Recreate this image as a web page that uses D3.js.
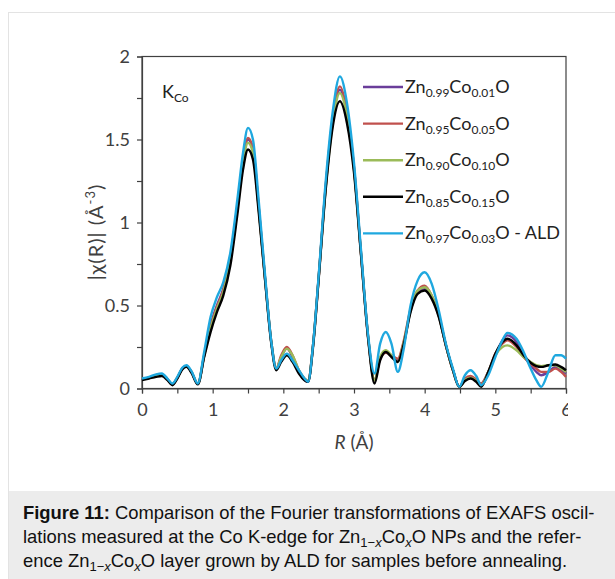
<!DOCTYPE html>
<html>
<head>
<meta charset="utf-8">
<script src="https://cdn.jsdelivr.net/npm/d3@7"></script>
<style>
  html, body { margin: 0; padding: 0; background: #ffffff; }
  svg { display: block; }
</style>
</head>
<body>
<svg id="fig" width="615" height="579"></svg>
<script>
// Radial distance grid (Å), shared by every sample
const rValues = [0, 0.1, 0.2, 0.28, 0.36, 0.43, 0.5, 0.57, 0.63, 0.7, 0.79, 0.88, 0.97, 1.06, 1.15, 1.25, 1.35, 1.43, 1.5, 1.57, 1.65, 1.74, 1.83, 1.9, 1.97, 2.05, 2.13, 2.22, 2.3, 2.35, 2.42, 2.5, 2.6, 2.7, 2.8, 2.9, 3.0, 3.1, 3.2, 3.29, 3.37, 3.45, 3.53, 3.62, 3.7, 3.8, 3.9, 4.0, 4.1, 4.2, 4.3, 4.4, 4.49, 4.57, 4.65, 4.73, 4.8, 4.9, 5.0, 5.1, 5.17, 5.3, 5.4, 5.5, 5.58, 5.65, 5.75, 5.85, 5.93, 6.0];

// |χ(R)| magnitudes (Å^-3) for each sample
const zn099 = [0.055, 0.065, 0.08, 0.085, 0.055, 0.025, 0.065, 0.12, 0.135, 0.1, 0.028, 0.2, 0.38, 0.50, 0.60, 0.79, 1.10, 1.37, 1.50, 1.44, 1.10, 0.67, 0.28, 0.12, 0.19, 0.24, 0.19, 0.10, 0.05, 0.04, 0.26, 0.67, 1.22, 1.62, 1.80, 1.66, 1.33, 0.81, 0.31, 0.05, 0.18, 0.22, 0.20, 0.17, 0.27, 0.47, 0.58, 0.60, 0.55, 0.44, 0.26, 0.11, 0.01, 0.055, 0.07, 0.05, 0.03, 0.10, 0.20, 0.29, 0.32, 0.28, 0.20, 0.14, 0.10, 0.08, 0.10, 0.13, 0.11, 0.09];
const zn095 = [0.055, 0.065, 0.08, 0.085, 0.055, 0.025, 0.065, 0.12, 0.135, 0.1, 0.028, 0.2, 0.37, 0.49, 0.59, 0.78, 1.10, 1.38, 1.51, 1.45, 1.10, 0.67, 0.28, 0.12, 0.20, 0.25, 0.20, 0.11, 0.06, 0.045, 0.26, 0.67, 1.22, 1.63, 1.82, 1.67, 1.33, 0.81, 0.31, 0.05, 0.18, 0.215, 0.20, 0.18, 0.28, 0.48, 0.59, 0.62, 0.56, 0.44, 0.26, 0.11, 0.01, 0.06, 0.075, 0.055, 0.03, 0.10, 0.21, 0.27, 0.29, 0.25, 0.19, 0.15, 0.12, 0.10, 0.10, 0.12, 0.10, 0.07];
const zn090 = [0.055, 0.065, 0.08, 0.085, 0.055, 0.025, 0.065, 0.12, 0.135, 0.1, 0.028, 0.2, 0.36, 0.48, 0.58, 0.77, 1.08, 1.36, 1.48, 1.42, 1.09, 0.67, 0.28, 0.12, 0.19, 0.24, 0.20, 0.11, 0.06, 0.045, 0.26, 0.67, 1.21, 1.60, 1.78, 1.64, 1.32, 0.81, 0.31, 0.05, 0.19, 0.23, 0.20, 0.16, 0.27, 0.47, 0.59, 0.61, 0.56, 0.44, 0.26, 0.11, 0.01, 0.05, 0.065, 0.045, 0.02, 0.10, 0.20, 0.25, 0.26, 0.23, 0.19, 0.16, 0.14, 0.135, 0.14, 0.14, 0.12, 0.10];
const zn085 = [0.05, 0.06, 0.07, 0.075, 0.05, 0.02, 0.06, 0.115, 0.13, 0.095, 0.025, 0.19, 0.34, 0.46, 0.56, 0.74, 1.05, 1.32, 1.44, 1.38, 1.07, 0.66, 0.27, 0.11, 0.16, 0.20, 0.16, 0.09, 0.05, 0.04, 0.25, 0.66, 1.20, 1.58, 1.73, 1.60, 1.30, 0.80, 0.30, 0.03, 0.17, 0.22, 0.19, 0.16, 0.26, 0.46, 0.57, 0.59, 0.54, 0.43, 0.26, 0.11, 0.01, 0.045, 0.06, 0.04, 0.01, 0.10, 0.21, 0.28, 0.30, 0.26, 0.20, 0.155, 0.135, 0.13, 0.14, 0.145, 0.13, 0.11];
const zn097ald = [0.06, 0.07, 0.085, 0.09, 0.06, 0.03, 0.07, 0.125, 0.14, 0.105, 0.03, 0.22, 0.43, 0.55, 0.64, 0.82, 1.14, 1.42, 1.57, 1.50, 1.14, 0.69, 0.28, 0.12, 0.17, 0.21, 0.17, 0.11, 0.06, 0.04, 0.26, 0.68, 1.25, 1.67, 1.88, 1.72, 1.36, 0.83, 0.32, 0.09, 0.27, 0.34, 0.27, 0.10, 0.23, 0.50, 0.65, 0.70, 0.63, 0.47, 0.27, 0.12, 0.01, 0.08, 0.11, 0.075, 0.02, 0.08, 0.19, 0.29, 0.335, 0.30, 0.22, 0.12, 0.05, 0.01, 0.10, 0.20, 0.20, 0.18];

const seriesNames = ["Zn0.99Co0.01O", "Zn0.95Co0.05O", "Zn0.90Co0.10O", "Zn0.85Co0.15O", "Zn0.97Co0.03O - ALD"];
const seriesValues = [zn099, zn095, zn090, zn085, zn097ald];
const seriesColors = ["#6a3d9a", "#c0504d", "#9bbb59", "#000000", "#1fa8df"];
// legend label pieces: [Zn subscript, Co subscript, trailing text]
const legendParts = [["0.99", "0.01", ""], ["0.95", "0.05", ""], ["0.90", "0.10", ""], ["0.85", "0.15", ""], ["0.97", "0.03", " - ALD"]];

const xTicks = [0, 1, 2, 3, 4, 5, 6];
const xMinorTicks = [0, 0.5, 1, 1.5, 2, 2.5, 3, 3.5, 4, 4.5, 5, 5.5, 6];
const yTicks = [0, 0.5, 1, 1.5, 2];
const yMinorTicks = [0, 0.25, 0.5, 0.75, 1, 1.25, 1.5, 1.75, 2];

const svg = d3.select("#fig");

// page frame and caption panel
svg.append("rect").attr("x", 8.5).attr("y", 12.5).attr("width", 620).attr("height", 580)
  .attr("fill", "#ffffff").attr("stroke", "#e3e3e3").attr("stroke-width", 1);
svg.append("rect").attr("x", 9).attr("y", 491).attr("width", 606).attr("height", 88)
  .attr("fill", "#ececec");

const plot = { left: 142, right: 566, top: 56.5, bottom: 388.5 };
const x = d3.scaleLinear().domain([0, 6]).range([plot.left, plot.right]);
const y = d3.scaleLinear().domain([0, 2]).range([plot.bottom, plot.top]);

const axisColor = "#404040";
const tickFont = "Lato, 'Open Sans', sans-serif";

// plot box
svg.append("rect").attr("x", plot.left).attr("y", plot.top)
  .attr("width", plot.right - plot.left).attr("height", plot.bottom - plot.top)
  .attr("fill", "none").attr("stroke", axisColor).attr("stroke-width", 1.2);

// y axis
const yAxis = svg.append("g").attr("transform", `translate(${plot.left},0)`)
  .call(d3.axisLeft(y).tickValues(yMinorTicks).tickSize(5).tickFormat(""));
yAxis.select(".domain").attr("stroke", axisColor).attr("stroke-width", 1.2);
yAxis.selectAll(".tick line").attr("stroke", axisColor).attr("stroke-width", 1.2);
const yLabels = svg.append("g").attr("transform", `translate(${plot.left},0)`)
  .call(d3.axisLeft(y).tickValues(yTicks).tickSize(0).tickPadding(12).tickFormat(d3.format("")));
yLabels.select(".domain").remove();
yLabels.selectAll("text").attr("font-family", tickFont).attr("font-size", 18).attr("fill", axisColor);

// x axis
const xAxis = svg.append("g").attr("transform", `translate(0,${plot.bottom})`)
  .call(d3.axisBottom(x).tickValues(xMinorTicks).tickSize(5).tickFormat(""));
xAxis.select(".domain").attr("stroke", axisColor).attr("stroke-width", 1.2);
xAxis.selectAll(".tick line").attr("stroke", axisColor).attr("stroke-width", 1.2);

svg.append("clipPath").attr("id", "xlabclip").append("rect")
  .attr("x", 0).attr("y", 0).attr("width", 568).attr("height", 579);
const xLabels = svg.append("g").attr("transform", `translate(0,${plot.bottom})`)
  .attr("clip-path", "url(#xlabclip)")
  .call(d3.axisBottom(x).tickValues(xTicks).tickSize(0).tickPadding(15).tickFormat(d3.format("")));
xLabels.select(".domain").remove();
xLabels.selectAll("text").attr("font-family", tickFont).attr("font-size", 18).attr("fill", axisColor);

// axis titles
const xTitle = svg.append("text").attr("x", 354).attr("y", 449)
  .attr("text-anchor", "middle").attr("font-family", tickFont).attr("font-size", 19).attr("fill", axisColor);
xTitle.append("tspan").attr("font-style", "italic").text("R");
xTitle.append("tspan").text(" (Å)");

const yTitle = svg.append("text").attr("transform", "translate(103,232) rotate(-90)")
  .attr("text-anchor", "middle").attr("font-family", tickFont).attr("font-size", 20)
  .attr("letter-spacing", 1).attr("fill", axisColor);
yTitle.append("tspan").text("|χ(R)| (Å");
yTitle.append("tspan").attr("font-size", 13).attr("dy", -8).text("-3");
yTitle.append("tspan").attr("dy", 8).text(")");

// edge label
const kLabel = svg.append("text").attr("x", 162).attr("y", 98)
  .attr("font-family", tickFont).attr("font-size", 18).attr("fill", "#222");
kLabel.append("tspan").text("K");
kLabel.append("tspan").attr("font-size", 12).attr("dy", 4).text("Co");

// curves
const line = d3.line()
  .x((d, i) => x(rValues[i]))
  .y(d => y(d))
  .curve(d3.curveMonotoneX);

svg.append("g").selectAll("path").data(seriesValues).join("path")
  .attr("d", d => line(d))
  .attr("fill", "none")
  .attr("stroke", (d, i) => seriesColors[i])
  .attr("stroke-width", 2.4)
  .attr("stroke-linejoin", "round");

// legend
const legend = svg.append("g").attr("transform", "translate(363,87)");
seriesNames.forEach((name, i) => {
  const g = legend.append("g").attr("transform", `translate(0,${i * 36.6})`);
  g.append("line").attr("x1", 0).attr("x2", 40).attr("y1", 0).attr("y2", 0)
    .attr("stroke", seriesColors[i]).attr("stroke-width", 2.4);
  const t = g.append("text").attr("x", 42).attr("y", 6)
    .attr("font-family", tickFont).attr("font-size", 18).attr("fill", "#222");
  const p = legendParts[i];
  t.append("tspan").text("Zn");
  t.append("tspan").attr("font-size", 12).attr("dy", 4).text(p[0]);
  t.append("tspan").attr("dy", -4).text("Co");
  t.append("tspan").attr("font-size", 12).attr("dy", 4).text(p[1]);
  t.append("tspan").attr("dy", -4).text("O" + p[2]);
});

// caption
const capFont = "'Liberation Sans', Arial, sans-serif";
const subSize = 13;
const cap = svg.append("g").attr("font-family", capFont).attr("font-size", 18.4).attr("fill", "#111");
const l1 = cap.append("text").attr("x", 23).attr("y", 519);
l1.append("tspan").attr("font-weight", "bold").text("Figure 11:");
l1.append("tspan").text(" Comparison of the Fourier transformations of EXAFS oscil-");

const l2 = cap.append("text").attr("x", 23).attr("y", 543);
l2.append("tspan").text("lations measured at the Co K-edge for Zn");
l2.append("tspan").attr("font-size", subSize).attr("dy", 4).text("1−");
l2.append("tspan").attr("font-size", subSize).attr("font-style", "italic").text("x");
l2.append("tspan").attr("dy", -4).text("Co");
l2.append("tspan").attr("font-size", subSize).attr("font-style", "italic").attr("dy", 4).text("x");
l2.append("tspan").attr("dy", -4).text("O NPs and the refer-");

const l3 = cap.append("text").attr("x", 23).attr("y", 567);
l3.append("tspan").text("ence Zn");
l3.append("tspan").attr("font-size", subSize).attr("dy", 4).text("1−");
l3.append("tspan").attr("font-size", subSize).attr("font-style", "italic").text("x");
l3.append("tspan").attr("dy", -4).text("Co");
l3.append("tspan").attr("font-size", subSize).attr("font-style", "italic").attr("dy", 4).text("x");
l3.append("tspan").attr("dy", -4).text("O layer grown by ALD for samples before annealing.");
</script>
</body>
</html>
